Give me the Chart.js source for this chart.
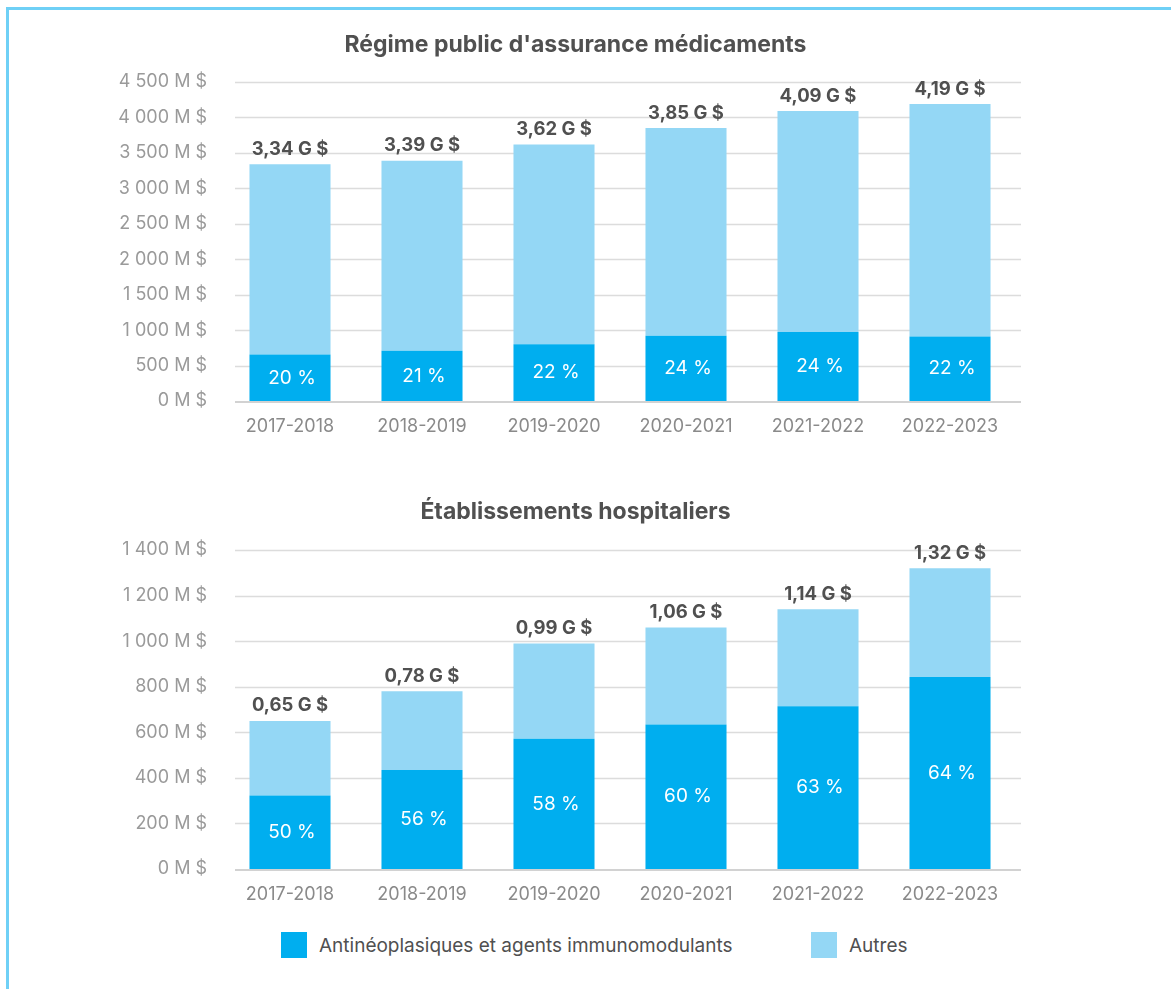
<!DOCTYPE html>
<html><head><meta charset="utf-8">
<script src="https://cdn.jsdelivr.net/npm/chart.js@4.4.0/dist/chart.umd.min.js"></script>
<style>
html,body{margin:0;padding:0;background:#fff;}
body{width:1171px;height:989px;position:relative;overflow:hidden;font-family:Inter,sans-serif;}
#frame{position:absolute;left:6px;top:7px;width:1200px;height:1000px;border-top:3px solid #6fd0f6;border-left:3px solid #6fd0f6;}
canvas{position:absolute;left:0;}
#c1{top:0}
#c2{top:470px}
.leg{position:absolute;top:932px;height:26px;display:flex;align-items:center;font-size:19px;color:#505050;white-space:nowrap;}
.leg i{display:inline-block;width:26px;height:26px;margin-right:12px;}
</style></head>
<body>
<div id="frame"></div>
<canvas id="c1" width="1171" height="470"></canvas>
<canvas id="c2" width="1171" height="460"></canvas>
<div id="legend"></div>
<script>
// ---- data ----
const categories = ['2017-2018', '2018-2019', '2019-2020', '2020-2021', '2021-2022', '2022-2023'];
const seriesNames = ['Antinéoplasiques et agents immunomodulants', 'Autres'];
const seriesColors = ['#00AEEF', '#94D7F5'];

// Régime public d'assurance médicaments (M $)
const ramqTitle = "Régime public d'assurance médicaments";
const ramqAntineo = [655, 710, 800, 922, 975, 910];
const ramqAutres = [2685, 2680, 2820, 2928, 3115, 3280];
const ramqTotals = ['3,34 G $', '3,39 G $', '3,62 G $', '3,85 G $', '4,09 G $', '4,19 G $'];
const ramqShares = ['20 %', '21 %', '22 %', '24 %', '24 %', '22 %'];
const ramqTicks = ['0 M $', '500 M $', '1 000 M $', '1 500 M $', '2 000 M $', '2 500 M $', '3 000 M $', '3 500 M $', '4 000 M $', '4 500 M $'];

// Établissements hospitaliers (M $)
const hospTitle = 'Établissements hospitaliers';
const hospAntineo = [323, 435, 572, 634, 714, 843];
const hospAutres = [327, 345, 418, 426, 426, 477];
const hospTotals = ['0,65 G $', '0,78 G $', '0,99 G $', '1,06 G $', '1,14 G $', '1,32 G $'];
const hospShares = ['50 %', '56 %', '58 %', '60 %', '63 %', '64 %'];
const hospTicks = ['0 M $', '200 M $', '400 M $', '600 M $', '800 M $', '1 000 M $', '1 200 M $', '1 400 M $'];

// ---- plugins ----
const gridPlugin = {
  id: 'hGrid',
  beforeDatasetsDraw(chart) {
    const {ctx, chartArea, scales} = chart;
    const y = scales.y;
    const x0 = chartArea.left + 11, x1 = chartArea.right + 5;
    ctx.save();
    y.ticks.forEach(t => {
      if (t.value === 0) return;
      const py = Math.round(y.getPixelForValue(t.value)) + 0.5;
      ctx.beginPath();
      ctx.strokeStyle = '#dcdcdc';
      ctx.lineWidth = 1.5;
      ctx.moveTo(x0, py); ctx.lineTo(x1, py); ctx.stroke();
    });
    ctx.restore();
  },
  afterDatasetsDraw(chart) {
    const {ctx, chartArea, scales} = chart;
    const y = scales.y;
    const x0 = chartArea.left + 11, x1 = chartArea.right + 5;
    const py = Math.round(y.getPixelForValue(0)) + 1;
    ctx.save();
    ctx.beginPath();
    ctx.strokeStyle = '#d2d2d2';
    ctx.lineWidth = 2;
    ctx.moveTo(x0, py); ctx.lineTo(x1, py); ctx.stroke();
    ctx.restore();
  }
};

const labelPlugin = {
  id: 'barLabels',
  afterDatasetsDraw(chart, args, opts) {
    const ctx = chart.ctx;
    const m0 = chart.getDatasetMeta(0), m1 = chart.getDatasetMeta(1);
    ctx.save();
    ctx.textAlign = 'center';
    ctx.textBaseline = 'middle';
    m0.data.forEach((bar, i) => {
      ctx.font = '19px Inter';
      ctx.fillStyle = '#ffffff';
      ctx.fillText(opts.shares[i], bar.x + 2, (bar.y + bar.base) / 2);
      const top = m1.data[i];
      ctx.font = 'bold 18.5px Inter';
      ctx.fillStyle = '#505050';
      ctx.fillText(opts.totals[i], top.x, top.y - 15);
    });
    ctx.restore();
  }
};

function makeChart(id, title, antineo, autres, tickLabels, max, step, totals, shares, titlePad, bottomPad) {
  return new Chart(document.getElementById(id), {
    type: 'bar',
    data: {
      labels: categories,
      datasets: [
        {label: seriesNames[0], data: antineo, backgroundColor: seriesColors[0], borderWidth: 0},
        {label: seriesNames[1], data: autres, backgroundColor: seriesColors[1], borderWidth: 0}
      ]
    },
    options: {
      responsive: false,
      animation: false,
      devicePixelRatio: 1,
      barPercentage: 0.614,
      categoryPercentage: 1,
      layout: {padding: {left: 0, right: 20, top: 0, bottom: bottomPad}},
      plugins: {
        legend: {display: false},
        tooltip: {enabled: false},
        title: {
          display: true, text: title, color: '#505050',
          font: {family: 'Inter', size: 23, weight: 'bold'},
          padding: titlePad
        },
        barLabels: {totals: totals, shares: shares}
      },
      scales: {
        x: {
          stacked: true,
          grid: {display: false, drawTicks: false},
          border: {display: false},
          ticks: {color: '#8a8a8a', font: {family: 'Inter', size: 18}, padding: 15, maxRotation: 0}
        },
        y: {
          stacked: true, min: 0, max: max,
          grid: {display: false, drawTicks: false},
          border: {display: false},
          ticks: {
            stepSize: step, color: '#9a9a9a', padding: 17,
            font: {family: 'Inter', size: 18},
            callback: v => tickLabels[Math.round(v / step)]
          },
          afterFit: s => { s.width = 224; }
        },
        yR: {
          position: 'right', display: true,
          grid: {display: false, drawTicks: false},
          border: {display: false},
          ticks: {display: false},
          afterFit: s => { s.width = 135; }
        }
      }
    },
    plugins: [gridPlugin, labelPlugin]
  });
}

makeChart('c1', ramqTitle, ramqAntineo, ramqAutres, ramqTicks, 4500, 500, ramqTotals, ramqShares, {top: 31.5, bottom: 22.9}, 17.4);
makeChart('c2', hospTitle, hospAntineo, hospAutres, hospTicks, 1400, 200, hospTotals, hospShares, {top: 28, bottom: 24.4}, 9.4);

// legend
const legendPos = [281, 811];
const lg = document.getElementById('legend');
seriesNames.forEach((n, i) => {
  const d = document.createElement('div');
  d.className = 'leg';
  d.style.left = legendPos[i] + 'px';
  const b = document.createElement('i');
  b.style.background = seriesColors[i];
  d.appendChild(b);
  d.appendChild(document.createTextNode(n));
  lg.appendChild(d);
});
</script>
</body></html>
